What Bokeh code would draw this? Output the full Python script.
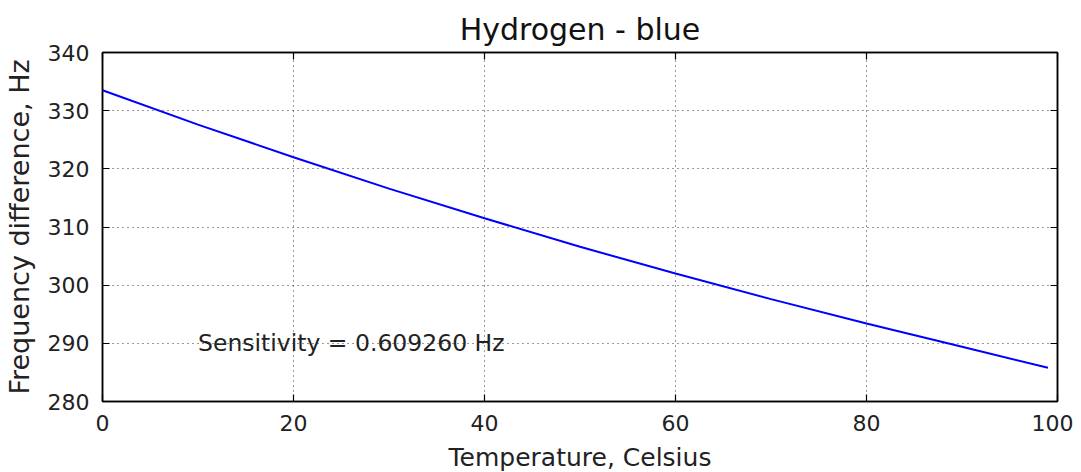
from bokeh.plotting import figure
from bokeh.models import Range1d, LinearAxis, Label, SingleIntervalTicker, Title
from bokeh.embed import file_html
from bokeh.resources import INLINE

temperature = [0, 10, 20, 30, 40, 50, 60, 70, 80, 90, 99]
freq_diff = [333.5, 327.6, 322.0, 316.6, 311.5, 306.6, 302.0, 297.6, 293.4, 289.4, 285.8]
title_text = "Hydrogen - blue"
x_label = "Temperature, Celsius"
y_label = "Frequency difference, Hz"
note_text = "Sensitivity = 0.609260 Hz"
note_pos = (10, 290)

FONT = "DejaVu Sans"

p = figure(frame_width=955, frame_height=349, output_backend="svg", toolbar_location=None,
           x_range=Range1d(0, 100), y_range=Range1d(280, 340),
           min_border_left=102, min_border_right=16, min_border_top=52, min_border_bottom=10)
p.title = Title(text=title_text, align="center", text_font=FONT, text_font_size="30px",
                text_font_style="normal", text_color="#111111", standoff=3)
p.background_fill_color = "white"
p.border_fill_color = "white"
p.outline_line_color = "black"
p.outline_line_width = 1.5

p.line(temperature, freq_diff, line_color="#0000ff", line_width=2)

for ax in (p.xaxis[0], p.yaxis[0]):
    ax.major_label_text_font = FONT
    ax.major_label_text_font_size = "22px"
    ax.major_label_text_color = "#222222"
    ax.axis_label_text_font = FONT
    ax.axis_label_text_font_style = "normal"
    ax.axis_label_text_color = "#222222"
    ax.major_tick_in = 7
    ax.major_tick_out = 0
    ax.minor_tick_line_color = None
    ax.axis_line_width = 1.5
    ax.major_tick_line_width = 1.2
    ax.major_label_standoff = 9

p.xaxis[0].ticker = SingleIntervalTicker(interval=20)
p.yaxis[0].ticker = SingleIntervalTicker(interval=10)
p.xaxis[0].axis_label = x_label
p.yaxis[0].axis_label = y_label
p.xaxis[0].axis_label_text_font_size = "25px"
p.yaxis[0].axis_label_text_font_size = "27px"
p.xaxis[0].axis_label_standoff = 9
p.yaxis[0].axis_label_standoff = 10

for loc, interval in (("right", 10), ("above", 20)):
    ax = LinearAxis(ticker=SingleIntervalTicker(interval=interval))
    ax.major_label_text_font_size = "0px"
    ax.major_label_text_color = None
    ax.major_tick_in = 7
    ax.major_tick_out = 0
    ax.minor_tick_line_color = None
    ax.axis_line_width = 1.5
    ax.major_tick_line_width = 1.2
    ax.major_label_standoff = 0
    p.add_layout(ax, loc)

p.xgrid.ticker = SingleIntervalTicker(interval=20)
p.ygrid.ticker = SingleIntervalTicker(interval=10)
for g in (p.xgrid, p.ygrid):
    g.grid_line_color = "black"
    g.grid_line_dash = "1 4"
    g.grid_line_width = 1
    g.grid_line_alpha = 0.8

p.add_layout(Label(x=note_pos[0], y=note_pos[1], text=note_text, text_font=FONT,
                   text_font_size="23.5px", text_color="#222222", text_baseline="alphabetic"))

open("out.html", "w").write(file_html(p, INLINE))
